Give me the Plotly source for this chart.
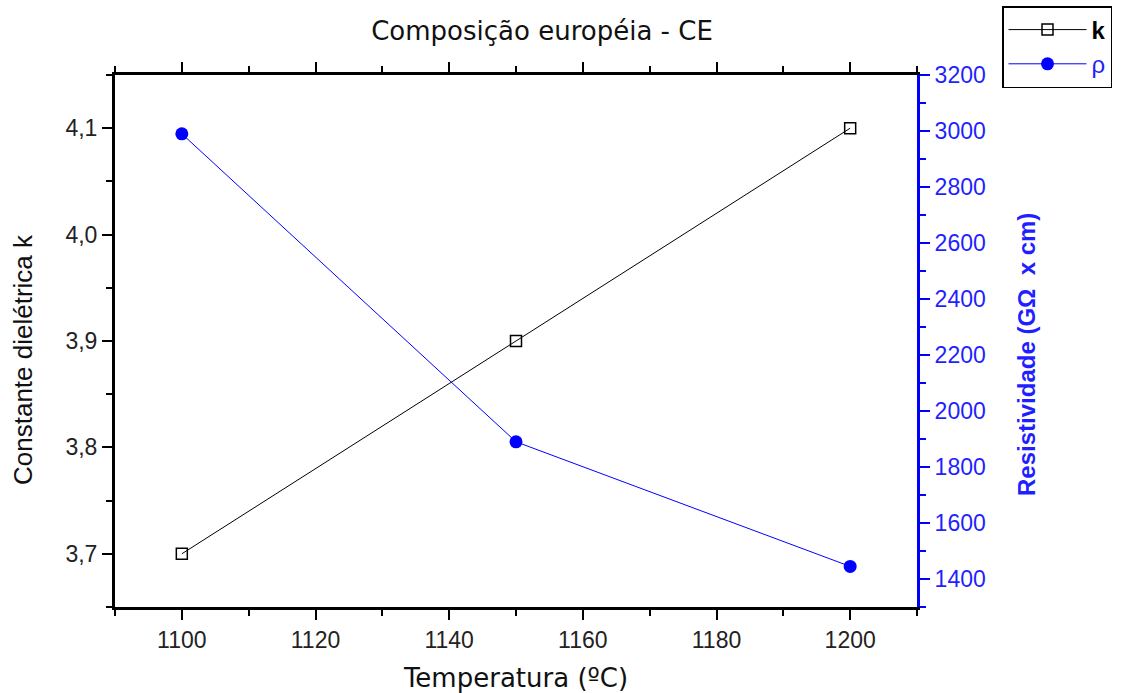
import plotly.graph_objects as go

# Sintering temperature (ºC)
temperatura = [1100, 1150, 1200]
# Dielectric constant k
constante_k = [3.7, 3.9, 4.1]
# Resistivity (GΩ x cm)
resistividade = [2990, 1890, 1445]

SANS = "Liberation Sans, Arial, sans-serif"
WIDE = "DejaVu Sans, Verdana, sans-serif"
BLUE = "#0000ff"
BLUE_TXT = "#1f1fff"

W, H = 1123, 693
L, R, T, B = 115, 206, 75, 86

fig = go.Figure()

fig.add_trace(go.Scatter(
    x=temperatura, y=constante_k, name="<b>k</b>",
    mode="lines+markers",
    line=dict(color="black", width=1),
    marker=dict(symbol="square-open", size=11, color="black", line=dict(width=1.5)),
    yaxis="y",
))

fig.add_trace(go.Scatter(
    x=temperatura, y=resistividade, name="<span style='color:#1f1fff'>ρ</span>",
    mode="lines+markers",
    line=dict(color=BLUE, width=1),
    marker=dict(symbol="circle", size=13, color=BLUE),
    yaxis="y2",
))

fig.update_layout(
    width=W, height=H,
    margin=dict(l=L, r=R, t=T, b=B, autoexpand=False),
    plot_bgcolor="white", paper_bgcolor="white",
    separators=",.",
    font=dict(family=SANS, size=23, color="#222222"),
    title=dict(text="Composição européia - CE", x=542 / W, xanchor="center",
               y=1 - 31 / H, yanchor="middle",
               font=dict(family=WIDE, size=26, color="#111111")),
    xaxis=dict(
        range=[1090, 1210], dtick=20, tick0=1100,
        showgrid=False, zeroline=False,
        showline=True, linecolor="black", linewidth=3, mirror="ticks",
        ticks="outside", ticklen=10, tickwidth=2, tickcolor="black",
        minor=dict(ticks="outside", ticklen=6, tickwidth=2, dtick=10, tick0=1090, tickcolor="black"),
        tickfont=dict(size=23, color="#222222"),
        title=dict(text="Temperatura (ºC)", font=dict(family=WIDE, size=26, color="#111111"), standoff=20),
    ),
    yaxis=dict(
        range=[3.65, 4.15], dtick=0.1, tick0=3.7, tickformat=".1f",
        showgrid=False, zeroline=False,
        showline=True, linecolor="black", linewidth=3,
        ticks="outside", ticklen=10, tickwidth=2, tickcolor="black",
        minor=dict(ticks="outside", ticklen=6, tickwidth=2, dtick=0.05, tick0=3.65, tickcolor="black"),
        tickfont=dict(size=23, color="#222222"),
    ),
    yaxis2=dict(
        range=[1300, 3200], dtick=200, tick0=1400,
        overlaying="y", side="right",
        showgrid=False, zeroline=False,
        showline=True, linecolor=BLUE, linewidth=3,
        ticks="outside", ticklen=10, tickwidth=2, tickcolor=BLUE,
        minor=dict(ticks="outside", ticklen=6, tickwidth=2, dtick=100, tick0=1300, tickcolor=BLUE),
        tickfont=dict(size=23, color=BLUE_TXT),
    ),
    legend=dict(
        x=(1002 - L) / (W - L - R), y=(H - B - 6) / (H - T - B), xanchor="left", yanchor="top",
        bordercolor="black", borderwidth=1.5, bgcolor="white",
        font=dict(family=SANS, size=24, color="black"),
        itemwidth=78, tracegroupgap=0, entrywidth=128,
    ),
    showlegend=True,
    annotations=[
        dict(text="Constante dielétrica k", textangle=-90,
             xref="paper", yref="paper",
             x=(23 - L) / (W - L - R), y=(H - B - 360) / (H - T - B),
             xanchor="center", yanchor="middle", showarrow=False,
             font=dict(family=SANS, size=26, color="#111111")),
        dict(text="<b>Resistividade (GΩ  x cm)</b>", textangle=-90,
             xref="paper", yref="paper",
             x=(1026 - L) / (W - L - R), y=(H - B - 355) / (H - T - B),
             xanchor="center", yanchor="middle", showarrow=False,
             font=dict(family=SANS, size=24, color=BLUE_TXT)),
    ],
)

fig.write_html("out.html")
